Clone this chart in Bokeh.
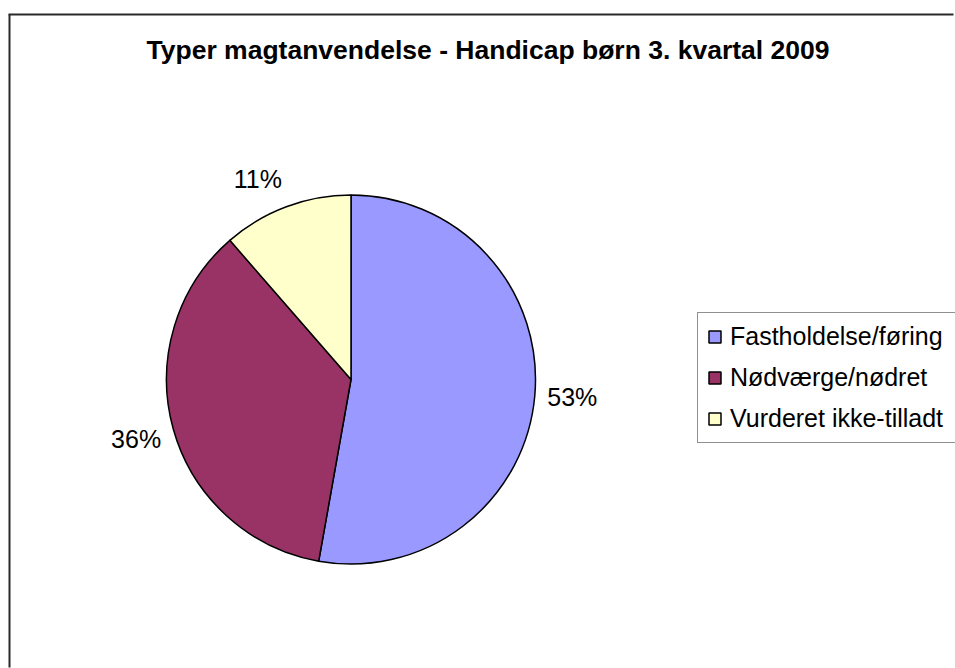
import math
from bokeh.plotting import figure
from bokeh.models import Range1d, ColumnDataSource, Legend, LegendItem, Label
from bokeh.embed import file_html
from bokeh.resources import INLINE

# ---- data ----
categories = ["Fastholdelse/føring", "Nødværge/nødret", "Vurderet ikke-tilladt"]
shares = [52.8, 35.8, 11.4]          # percent of all cases
colors = ["#9999FF", "#993366", "#FFFFCC"]
title_text = "Typer magtanvendelse - Handicap børn 3. kvartal 2009"

FONT = "Liberation Sans"
W, H = 955, 668

p = figure(width=W, height=H, x_range=Range1d(0, W), y_range=Range1d(0, H),
           output_backend="svg", toolbar_location=None, min_border=0,
           x_axis_type=None, y_axis_type=None)
p.grid.visible = False
p.outline_line_color = None
p.background_fill_color = "white"
p.border_fill_color = "white"

# chart-area frame: only its left and top edges fall inside the picture
p.segment(x0=[9, 8], y0=[1, H - 14], x1=[9, W - 2], y1=[H - 14, H - 14],
          line_color="#2a2a2a", line_width=2)

# ---- pie ----
cx, cy, R = 350.5, 289.0, 184.5
total = sum(shares)
starts, ends, mids = [], [], []
cum = 0.0
for s in shares:
    f0 = cum / total
    cum += s
    f1 = cum / total
    starts.append(math.pi / 2 - 2 * math.pi * f0)
    ends.append(math.pi / 2 - 2 * math.pi * f1)
    mids.append(2 * math.pi * (f0 + f1) / 2)  # clockwise from 12 o'clock

src = ColumnDataSource(dict(cat=categories, share=shares, color=colors,
                            start=starts, end=ends))
pie = p.wedge(x=cx, y=cy, radius=R, start_angle="start", end_angle="end",
              direction="clock", fill_color="color", line_color="black",
              line_width=1.5, source=src)

# ---- percentage labels (placed just outside the slice, Excel style) ----
LR = 197
HALF_H = 13
LIFT = 3
for s, th in zip(shares, mids):
    dx, dy = math.sin(th), math.cos(th)
    align = "left" if dx > 0.3 else ("right" if dx < -0.3 else "center")
    shift = HALF_H * max(-1.0, min(1.0, 3 * dy))
    p.add_layout(Label(x=cx + LR * dx, y=cy + LR * dy + shift + LIFT,
                       text=f"{round(s)}%",
                       text_font=FONT, text_font_size="25px", text_color="black",
                       text_align=align, text_baseline="middle"))

# ---- title ----
p.add_layout(Label(x=487.5, y=H - 49, text=title_text, text_font=FONT,
                   text_font_size="26.5px", text_font_style="bold",
                   text_color="black",
                   text_align="center", text_baseline="middle"))

# ---- legend ----
items = [LegendItem(label=c, renderers=[pie], index=i) for i, c in enumerate(categories)]
legend = Legend(items=items, location=(697, 225), orientation="vertical",
                label_text_font=FONT, label_text_font_size="25px",
                label_text_color="black", label_width=260,
                glyph_width=15, glyph_height=15, label_standoff=8,
                spacing=12, padding=9, margin=0,
                border_line_color="#222222", border_line_width=1,
                background_fill_color="white", background_fill_alpha=1.0)
p.add_layout(legend)

open("out.html", "w").write(file_html(p, INLINE))
